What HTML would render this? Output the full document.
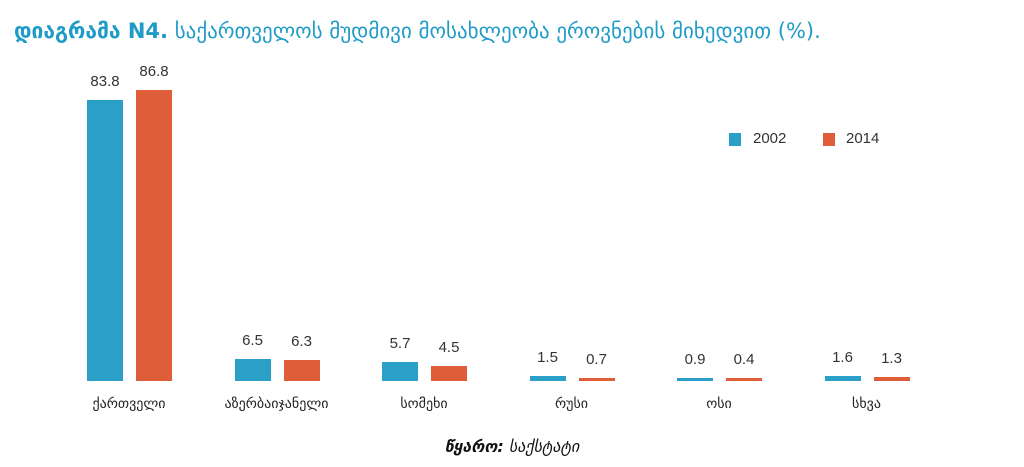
<!DOCTYPE html>
<html><head><meta charset="utf-8"><style>
body{margin:0;background:#fff;width:1024px;height:467px;overflow:hidden;position:relative;font-family:"DejaVu Sans","Liberation Sans",sans-serif}
.t{position:absolute;left:14px;top:19px;font-size:21px;color:#1f9bc7;white-space:nowrap}
.t b{font-weight:bold}
.bar{position:absolute}
.b{background:#2aa0c9}.o{background:#e05d3a}
.v{position:absolute;width:60px;text-align:center;font-size:15px;color:#333;font-family:"Liberation Sans",sans-serif}
.c{position:absolute;width:160px;text-align:center;font-size:14px;color:#222;top:396px}
.lg{position:absolute;font-size:15px;color:#333;font-family:"Liberation Sans",sans-serif}
.src{position:absolute;top:437px;left:0;width:1024px;text-align:center;font-size:16px;color:#111;font-style:italic}
</style></head><body>
<div class="t"><b>დიაგრამა N4.</b> საქართველოს მუდმივი მოსახლეობა ეროვნების მიხედვით (%).</div>
<div id="ch"></div>
<div class="bar b" style="left:729px;top:133px;width:12px;height:13px"></div><div class="lg" style="left:753px;top:130px">2002</div>
<div class="bar o" style="left:823px;top:133px;width:12px;height:13px"></div><div class="lg" style="left:846px;top:130px">2014</div>
<div class="src"><b>წყარო:</b> საქსტატი</div>
<script>
var d=[["ქართველი",83.8,86.8],["აზერბაიჯანელი",6.5,6.3],["სომეხი",5.7,4.5],["რუსი",1.5,0.7],["ოსი",0.9,0.4],["სხვა",1.6,1.3]];
var h="",base=381,s=3.353;
d.forEach(function(g,i){var x=87+i*147.5;
[[g[1],x,"b"],[g[2],x+49,"o"]].forEach(function(p){var ht=Math.max(3,p[0]*s);
h+='<div class="bar '+p[2]+'" style="left:'+p[1]+'px;top:'+(base-ht)+'px;width:36px;height:'+ht+'px"></div>';
h+='<div class="v" style="left:'+(p[1]-12)+'px;top:'+(base-ht-27)+'px">'+p[0].toFixed(1)+'</div>';});
h+='<div class="c" style="left:'+(x+42-80)+'px">'+g[0]+'</div>';});
document.getElementById("ch").innerHTML=h;
</script>
</body></html>
